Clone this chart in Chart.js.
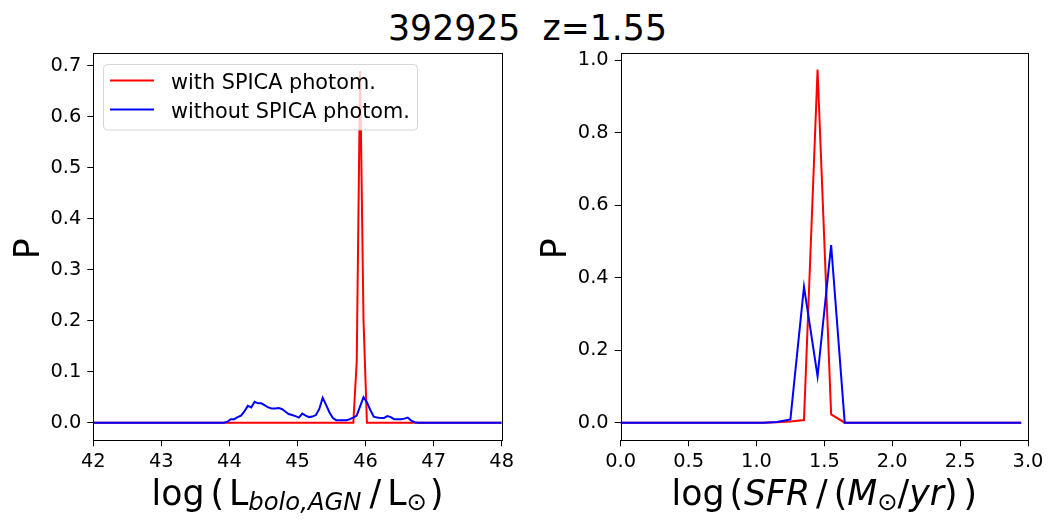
<!DOCTYPE html>
<html>
<head>
<meta charset="utf-8">
<script src="https://cdn.jsdelivr.net/npm/chart.js@4.4.1/dist/chart.umd.min.js"></script>
<style>
  body { margin: 0; background: #fff; width: 1055px; height: 526px; overflow: hidden; position: relative; font-family: "DejaVu Sans"; }
  canvas { position: absolute; top: 0; }
  #title { position: absolute; left: 0; top: 10.6px; width: 1055px; text-align: center; font-size: 34.7px; line-height: 34.7px; white-space: pre; color: #000; }
</style>
</head>
<body>
<div id="title">392925  z=1.55</div>
<canvas id="agnChart" width="527" height="526" style="left:0"></canvas>
<canvas id="sfrChart" width="528" height="526" style="left:527px"></canvas>
<script>
// left panel: log L_bolo,AGN grid and probabilities
const agnLogL = [42.0, 43.92, 43.97, 44.02, 44.07, 44.12, 44.17, 44.22, 44.27, 44.32, 44.37, 44.42, 44.47, 44.52, 44.57,
  44.62, 44.67, 44.72, 44.77, 44.82, 44.87, 44.92, 44.97, 45.02, 45.07, 45.12, 45.17, 45.22, 45.27, 45.32,
  45.37, 45.42, 45.47, 45.52, 45.57, 45.62, 45.67, 45.72, 45.77, 45.82, 45.87, 45.92, 45.97, 46.02, 46.07,
  46.12, 46.17, 46.22, 46.27, 46.32, 46.37, 46.42, 46.47, 46.52, 46.57, 46.62, 46.67, 46.72, 46.77, 48.0];
const agnWithSpica = [0, 0, 0, 0, 0, 0, 0, 0, 0, 0, 0, 0, 0, 0, 0,
  0, 0, 0, 0, 0, 0, 0, 0, 0, 0, 0, 0, 0, 0, 0,
  0, 0, 0, 0, 0, 0, 0, 0, 0, 0, 0.12, 0.69, 0.2, 0, 0,
  0, 0, 0, 0, 0, 0, 0, 0, 0, 0, 0, 0, 0, 0, 0];
const agnWithoutSpica = [0, 0, 0.002, 0.007, 0.007, 0.011, 0.014, 0.022, 0.033, 0.030, 0.041, 0.038, 0.038, 0.034, 0.030,
  0.028, 0.028, 0.029, 0.027, 0.022, 0.017, 0.015, 0.013, 0.010, 0.018, 0.014, 0.011, 0.012, 0.015, 0.027,
  0.049, 0.035, 0.020, 0.009, 0.005, 0.005, 0.005, 0.005, 0.007, 0.010, 0.014, 0.032, 0.050, 0.040, 0.025,
  0.012, 0.010, 0.009, 0.009, 0.013, 0.011, 0.007, 0.007, 0.007, 0.008, 0.010, 0.004, 0.001, 0, 0];

// right panel: log SFR grid and probabilities
const sfrLog = [-0.05, 0.05, 0.15, 0.25, 0.35, 0.45, 0.55, 0.65, 0.75, 0.85, 0.95, 1.05, 1.15, 1.25, 1.35, 1.45,
  1.55, 1.65, 1.75, 1.85, 1.95, 2.05, 2.15, 2.25, 2.35, 2.45, 2.55, 2.65, 2.75, 2.85, 2.95];
const sfrWithSpica = [0, 0, 0, 0, 0, 0, 0, 0, 0, 0, 0, 0, 0.001, 0.003, 0.007, 0.974,
  0.023, 0, 0, 0, 0, 0, 0, 0, 0, 0, 0, 0, 0, 0, 0];
const sfrWithoutSpica = [0, 0, 0, 0, 0, 0, 0, 0, 0, 0, 0, 0, 0.002, 0.009, 0.375, 0.128,
  0.49, 0, 0, 0, 0, 0, 0, 0, 0, 0, 0, 0, 0, 0, 0];

const agnTicksX = [42, 43, 44, 45, 46, 47, 48];
const agnTicksP = [0, 0.1, 0.2, 0.3, 0.4, 0.5, 0.6, 0.7];
const sfrTicksX = [0, 0.5, 1, 1.5, 2, 2.5, 3];
const sfrTicksP = [0, 0.2, 0.4, 0.6, 0.8, 1];

const seriesLabels = ['with SPICA photom.', 'without SPICA photom.'];
const seriesColors = ['#ff0000', '#0000ff'];

const FAM = '"DejaVu Sans"';
const MAIN = '34.7px ' + FAM;
const MAIN_I = 'italic 34.7px ' + FAM;
const SUB = '24.3px ' + FAM;
const SUB_I = 'italic 24.3px ' + FAM;

const points = (xs, ys) => xs.map((x, i) => ({ x: x, y: ys[i] }));

function axis(tickVals, min, max, fmt, isY, size) {
  return {
    type: 'linear',
    min: min,
    max: max,
    afterBuildTicks: s => { s.ticks = tickVals.map(v => ({ value: v })); },
    afterFit: s => { if (isY) s.width = size; else s.height = size; },
    border: { display: false },
    grid: { drawOnChartArea: false, drawTicks: true, tickLength: 6, color: '#000', lineWidth: 1 },
    ticks: {
      color: '#000', font: { family: 'DejaVu Sans', size: 19.4 },
      padding: isY ? 6 : 4, maxRotation: 0, autoSkip: false,
      callback: fmt
    }
  };
}

function datasets(xs, a, b) {
  return [
    { label: seriesLabels[0], data: points(xs, a), borderColor: seriesColors[0], borderWidth: 2, pointRadius: 0, order: 2 },
    { label: seriesLabels[1], data: points(xs, b), borderColor: seriesColors[1], borderWidth: 2, pointRadius: 0, order: 1 }
  ];
}

// text made of pieces with different fonts, centred at cx
function drawRich(ctx, segs, cx, baseY) {
  let total = 0;
  segs.forEach(s => { ctx.font = s.f; total += (s.gap || 0) + ctx.measureText(s.t).width; });
  let x = cx - total / 2;
  ctx.fillStyle = '#000';
  ctx.textAlign = 'left';
  ctx.textBaseline = 'alphabetic';
  segs.forEach(s => {
    x += s.gap || 0;
    ctx.font = s.f;
    ctx.fillText(s.t, x, baseY + (s.dy || 0));
    x += ctx.measureText(s.t).width;
  });
}

function decoPlugin(xLabel) {
  return {
    id: 'deco',
    afterDraw(chart) {
      const ctx = chart.ctx, a = chart.chartArea;
      ctx.save();
      ctx.strokeStyle = '#000';
      ctx.lineWidth = 1;
      ctx.strokeRect(Math.round(a.left) + 0.5, Math.round(a.top) + 0.5,
        Math.round(a.right) - Math.round(a.left), Math.round(a.bottom) - Math.round(a.top));
      drawRich(ctx, xLabel, (a.left + a.right) / 2, 505);
      ctx.translate(38.5, (a.top + a.bottom) / 2 + 2);
      ctx.rotate(-Math.PI / 2);
      ctx.font = MAIN;
      ctx.textAlign = 'center';
      ctx.fillText('P', 0, 0);
      ctx.restore();
    }
  };
}

const legendPlugin = {
  id: 'boxLegend',
  afterDraw(chart) {
    const ctx = chart.ctx;
    ctx.save();
    ctx.beginPath();
    ctx.roundRect(103.5, 64.5, 314, 65.5, 4);
    ctx.fillStyle = 'rgba(255,255,255,0.8)';
    ctx.fill();
    ctx.strokeStyle = 'rgba(204,204,204,0.8)';
    ctx.lineWidth = 1;
    ctx.stroke();
    const rows = [80.5, 109.5];
    ctx.font = '20.8px ' + FAM;
    ctx.textBaseline = 'alphabetic';
    ctx.textAlign = 'left';
    seriesLabels.forEach((lab, i) => {
      ctx.strokeStyle = seriesColors[i];
      ctx.lineWidth = 2;
      ctx.beginPath();
      ctx.moveTo(110, rows[i]);
      ctx.lineTo(154, rows[i]);
      ctx.stroke();
      ctx.fillStyle = '#000';
      ctx.fillText(lab, 171, rows[i] + 8.5);
    });
    ctx.restore();
  }
};

const agnXLabel = [
  { t: 'log', f: MAIN },
  { t: '(', f: MAIN, gap: 6 },
  { t: 'L', f: MAIN, gap: 5 },
  { t: 'bolo,AGN', f: SUB_I, dy: 5 },
  { t: '/', f: MAIN, gap: 8 },
  { t: 'L', f: MAIN, gap: 6 },
  { t: '\u2299', f: SUB, dy: 5 },
  { t: ')', f: MAIN, gap: 3 }
];
const sfrXLabel = [
  { t: 'log', f: MAIN },
  { t: '(', f: MAIN, gap: 5 },
  { t: 'SFR', f: MAIN_I, gap: 1 },
  { t: '/', f: MAIN, gap: 6 },
  { t: '(', f: MAIN, gap: 6 },
  { t: 'M', f: MAIN_I },
  { t: '\u2299', f: SUB, dy: 5 },
  { t: '/', f: MAIN },
  { t: 'yr', f: MAIN_I },
  { t: ')', f: MAIN },
  { t: ')', f: MAIN, gap: 6 }
];

const one = v => v.toFixed(1);

new Chart(document.getElementById('agnChart').getContext('2d'), {
  type: 'line',
  data: { datasets: datasets(agnLogL, agnWithSpica, agnWithoutSpica) },
  options: {
    responsive: false,
    animation: false,
    layout: { padding: { left: 0, top: 53.3, right: 25.3, bottom: 0 } },
    plugins: { legend: { display: false }, tooltip: { enabled: false } },
    scales: {
      x: axis(agnTicksX, 42, 48, v => String(v), false, 85.7),
      y: axis(agnTicksP, -0.0345, 0.7245, one, true, 93.3)
    }
  },
  plugins: [decoPlugin(agnXLabel), legendPlugin]
});

new Chart(document.getElementById('sfrChart').getContext('2d'), {
  type: 'line',
  data: { datasets: datasets(sfrLog, sfrWithSpica, sfrWithoutSpica) },
  options: {
    responsive: false,
    animation: false,
    layout: { padding: { left: 0, top: 53.3, right: 27, bottom: 0 } },
    plugins: { legend: { display: false }, tooltip: { enabled: false } },
    scales: {
      x: axis(sfrTicksX, 0, 3, one, false, 85.7),
      y: axis(sfrTicksP, -0.0487, 1.0187, one, true, 93.7)
    }
  },
  plugins: [decoPlugin(sfrXLabel)]
});
</script>
</body>
</html>
